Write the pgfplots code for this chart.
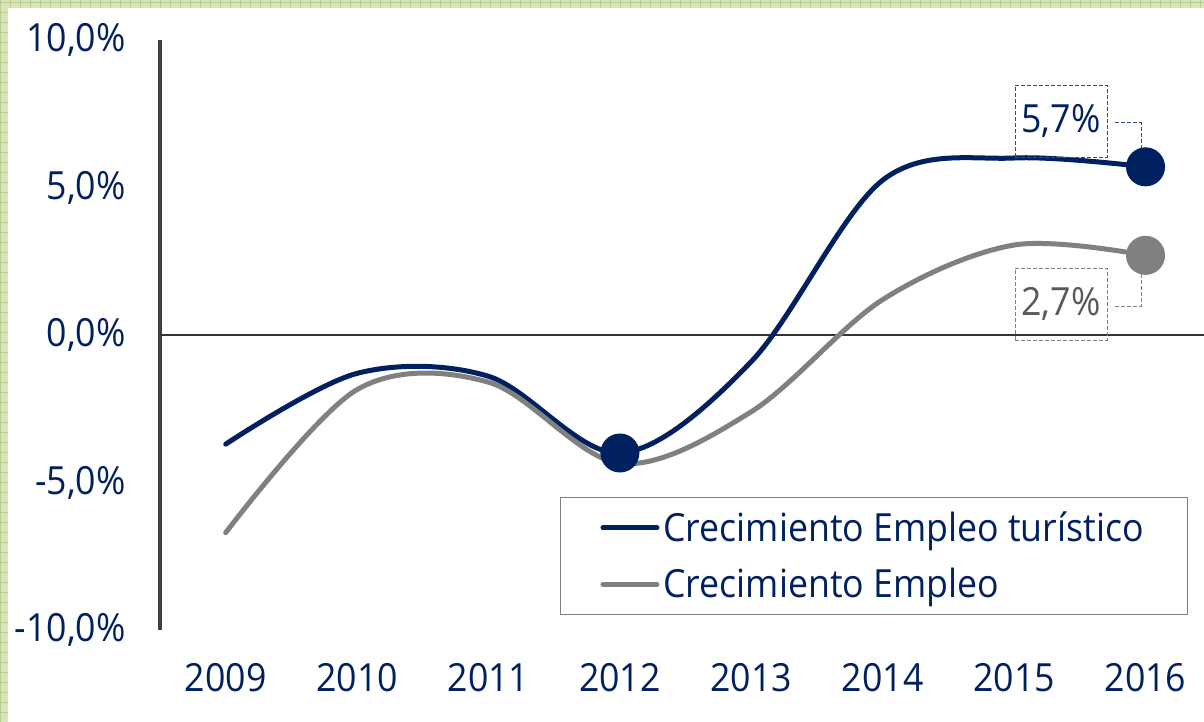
\documentclass[border=0pt]{standalone}
\usepackage{fontspec}
\setmainfont{Open Sans}[FakeStretch=0.92]
\usepackage{pgfplots}
\pgfplotsset{compat=1.18}
\definecolor{navy}{HTML}{002060}
\definecolor{grisl}{HTML}{808080}
\definecolor{grist}{HTML}{595959}
\definecolor{verde}{HTML}{D8E4BC}
\definecolor{verdel}{HTML}{B5CC8A}
\newcommand\ff{\fontsize{19.4pt}{23pt}\selectfont}

\pgfplotstableread{
x y
0 -3.7
1 -1.3
2 -1.4
3 -4.0
4 -0.9
5 5.25
6 6.0
7 5.7
}\turistico
\pgfplotstableread{
x y
0 -6.7
1 -1.85
2 -1.6
3 -4.35
4 -2.6
5 1.2
6 3.05
7 2.7
}\empleo

\begin{document}
\begin{tikzpicture}
\useasboundingbox (0,0) rectangle (602pt,361pt);
\fill[white] (0,0) rectangle (602pt,361pt);
% green frame (left and top strips)
\fill[verde] (0,0) rectangle (4pt,361pt);
\fill[verde] (0,357pt) rectangle (602pt,361pt);
\begin{scope}
\clip (0,0) rectangle (4pt,361pt) (0,357pt) rectangle (602pt,361pt);
\draw[verdel, line width=0.4pt, step=5pt] (0,0) grid (602pt,361pt);
\end{scope}
\begin{axis}[
    at={(80pt,46pt)}, anchor=south west,
    scale only axis,
    width=522pt, height=295pt,
    xmin=-0.5, xmax=7.445,
    ymin=-10, ymax=10,
    clip=false,
    axis lines*=left,
    x axis line style={draw=none},
    y axis line style={-, draw=black!75, line width=1.5pt},
    major tick length=0pt,
    xtick={0,...,7},
    xticklabels={2009,2010,2011,2012,2013,2014,2015,2016},
    ytick={-10,-5,0,5,10},
    yticklabels={{-10,0\%},{-5,0\%},{0,0\%},{5,0\%},{10,0\%}},
    tick label style={font=\ff, text=navy, inner sep=0pt},
    yticklabel style={anchor=east, xshift=-17pt},
    xticklabel style={anchor=north, yshift=-16.5pt},
    extra y ticks={0},
    extra y tick labels={},
    extra y tick style={grid=major, major grid style={black!80, line width=0.75pt}},
    legend style={at={(0.3831,0.2254)}, anchor=north west,
        draw=grisl, line width=0.5pt, font=\ff, text=navy,
        inner xsep=20pt, inner ysep=5pt, row sep=8pt,
        nodes={inner sep=2pt}},
    legend cell align=left,
    legend image code/.code={\draw[#1, mark=none] (0pt,0pt) -- (27pt,0pt);},
]
\addplot[navy, line width=2.5pt, line cap=round, smooth, tension=0.55,
    mark=*, mark indices={4,8}, mark size=9.5pt,
    mark options={fill=navy, draw=navy, line width=0.5pt}] table {\turistico};
\addlegendentry{Crecimiento Empleo turístico}
\addplot[grisl, line width=2.5pt, line cap=round, smooth, tension=0.55,
    mark=*, mark indices={8}, mark size=9.5pt,
    mark options={fill=grisl, draw=grisl, line width=0.5pt}] table {\empleo};
\addlegendentry{Crecimiento Empleo}
% data labels
\node[draw=navy!80, dash pattern=on 2pt off 1pt, line width=0.5pt,
    minimum width=46pt, minimum height=36pt, inner sep=0pt, font=\ff, text=navy]
    at (axis cs:6.357,7.25) {5,7\%};
\draw[navy!80, dash pattern=on 2pt off 1pt, line width=0.5pt]
    (axis cs:6.768,7.19) -- (axis cs:6.966,7.19) -- (axis cs:6.966,6.1);
\node[draw=grisl, dash pattern=on 2pt off 1pt, line width=0.5pt,
    minimum width=46pt, minimum height=36pt, inner sep=0pt, font=\ff, text=grist]
    at (axis cs:6.357,1.05) {2,7\%};
\draw[grisl, dash pattern=on 2pt off 1pt, line width=0.5pt]
    (axis cs:6.768,0.98) -- (axis cs:6.966,0.98) -- (axis cs:6.966,2.07);
\end{axis}
\end{tikzpicture}
\end{document}
